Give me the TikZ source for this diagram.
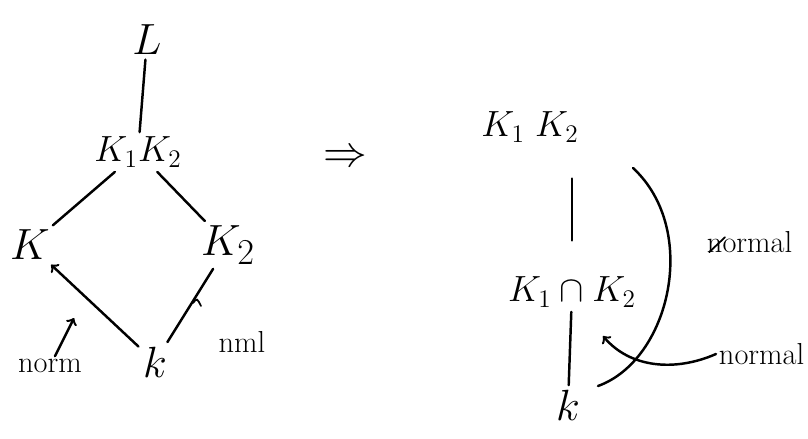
\documentclass[tikz,border=0pt]{standalone}
\usepackage{amsmath}
\usepackage{amssymb}
\usepackage{tikz}

\begin{document}
\begin{tikzpicture}[x=0.02cm, y=-0.02cm, line width=1.4pt, line cap=round,
    fld/.style={inner sep=2pt, font=\Huge},
    fldw/.style={inner sep=2pt, font=\huge},
    lbl/.style={inner sep=1pt, font=\LARGE}]
                \useasboundingbox (0,0) rectangle (808,439);

                % Nodes
                \node[fld] (L) at (147,40) {$L$};
                \node[fldw] (KK) at (138,152) {$K_1K_2$};
                \node[fld] (K1) at (30,245) {$K$};
                \node[fld] (K2) at (228,245) {$K_2$};
                \node[fld] (k) at (155,362) {$k$};
                \node[lbl] (norm) at (50,366) {norm};
                \node[lbl] (nml) at (242,342) {nml};
                \node[fld] (imp) at (345,158) {$\Rightarrow$};
                \node[fldw] (rKK) at (530,127) {$K_1\;K_2$};
                \node[fldw] (rcap) at (572,292) {$K_1\cap K_2$};
                \node[fld] (rk) at (568,405) {$k$};
                \node[lbl, anchor=west] (notnml) at (704,242) {normal};
                \node[lbl, anchor=west] (normal) at (716,354) {normal};
                \coordinate (normtip) at (74,318);
                \coordinate (edgemid) at (603,336);

                % Edges
                \draw (L)--(KK);
                \draw (KK)--(K1);
                \draw (KK)--(K2);
                \draw[->] (k)--(K1);
                \draw (k)--(K2);
                \draw[->] (norm)--(normtip);
                \draw[line width=1pt] (193,303) .. controls (197,298) .. (201,306);
                \draw[shorten <=18pt, shorten >=18pt] (rKK.south -| rcap.north) -- (rcap.north);
                \draw (rcap)--(rk);
                \draw (633,168) .. controls (700,230) and (670,360) .. (598,386);
                \draw[->] (normal.west) .. controls (675,372) and (630,368) .. (edgemid);
                % strike through the first letter
                \draw[line width=1pt] ([xshift=3pt,yshift=2pt]notnml.south west) -- ([xshift=12pt,yshift=-5pt]notnml.north west);
            \end{tikzpicture}
\end{document}
